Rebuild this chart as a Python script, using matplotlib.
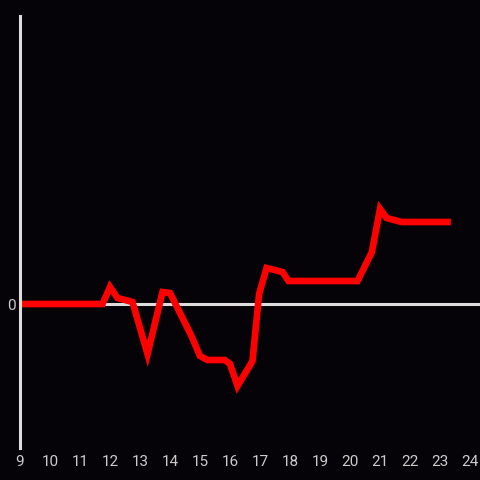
import matplotlib
matplotlib.use("Agg")
import matplotlib.pyplot as plt

hours = [9.0, 11.75, 12.0, 12.25, 12.75, 13.25, 13.75, 14.0, 14.7, 15.0, 15.25,
         15.83, 16.0, 16.25, 16.75, 16.97, 17.22, 17.75, 17.95, 20.25, 20.73,
         21.0, 21.22, 21.72, 23.25]
values = [0.0, 0.0, 0.17, 0.06, 0.02, -0.50, 0.12, 0.11, -0.31, -0.52, -0.56,
          -0.56, -0.60, -0.82, -0.57, 0.10, 0.36, 0.32, 0.23, 0.23, 0.52,
          0.95, 0.86, 0.82, 0.82]
xticks = list(range(9, 25))
yticks = [0]

bg = "#050307"
fg = "#dddddd"

fig = plt.figure(figsize=(4.8, 4.8), dpi=100, facecolor=bg)
ax = fig.add_axes([20/480, 32/480, 460/480, 432/480])
ax.set_facecolor(bg)

ax.axhline(0, color=fg, lw=2.2, zorder=1)
ax.plot(hours, values, color="#ff0000", lw=4.8, solid_joinstyle="miter", zorder=2)

ax.set_xlim(9, 9 + 460/30)
ax.set_ylim(-1.44, 2.88)
ax.set_xticks(xticks)
ax.set_xticklabels([str(t) for t in xticks])
ax.set_yticks(yticks)
ax.set_yticklabels(["0"])

for s in ["top", "right", "bottom"]:
    ax.spines[s].set_visible(False)
ax.spines["left"].set_color(fg)
ax.spines["left"].set_linewidth(2.2)

ax.tick_params(axis="both", length=0, colors="#cccccc", labelsize=11)
ax.tick_params(axis="x", pad=5)
ax.tick_params(axis="y", pad=3)
for lab in ax.get_xticklabels() + ax.get_yticklabels():
    lab.set_fontfamily("Roboto")

fig.savefig("out.png", dpi=100, facecolor=bg)
